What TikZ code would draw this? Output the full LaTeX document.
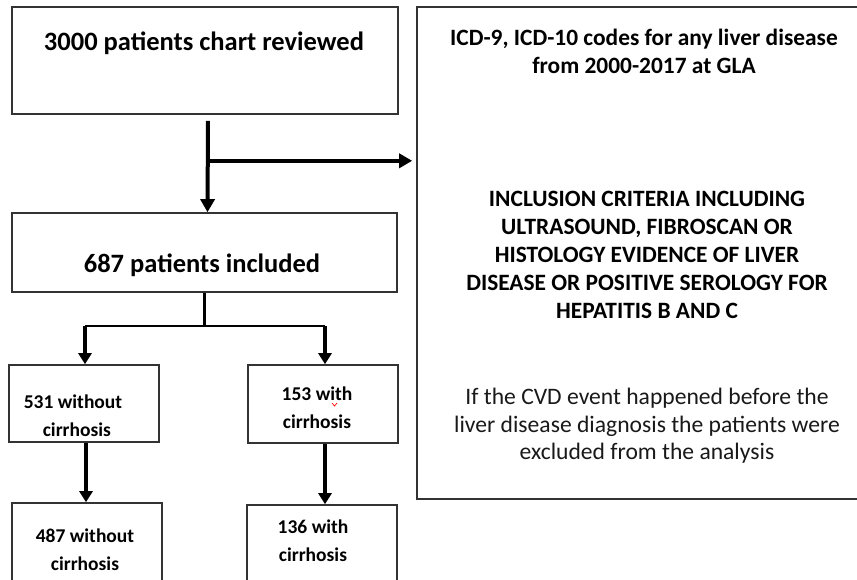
\documentclass[tikz,border=0pt]{standalone}
\usepackage{fontspec}
\setmainfont{Carlito}
\usetikzlibrary{arrows.meta,calc}
\begin{document}
\begin{tikzpicture}[x=1pt,y=-1pt,
  box/.style={draw=black!80,line width=1.6pt,inner sep=0pt},
  arrbig/.style={line width=4pt,-{Triangle[length=13pt,width=14pt]}},
  arrsm/.style={line width=3.2pt,-{Triangle[length=11pt,width=13pt]}},
  ln/.style={line width=2.2pt},
  tbig/.style={font=\bfseries\fontsize{26.5}{32}\selectfont,inner sep=0pt},
  tright/.style={font=\bfseries\fontsize{23.4}{28}\selectfont,align=center,inner sep=0pt},
  treg/.style={font=\fontsize{23.6}{27.5}\selectfont,text=black!90,align=center,inner sep=0pt},
  tsm/.style={font=\bfseries\fontsize{19.5}{28}\selectfont,align=center,inner sep=0pt}]
\useasboundingbox (0,0) rectangle (857,579);
\fill[white] (0,0) rectangle (857,579);
% boxes
\node[box,minimum width=386pt,minimum height=107pt] (b1) at (205,60.5) {};
\node[box,minimum width=385pt,minimum height=79pt] (b2) at (204.5,252.5) {};
\node[box,minimum width=453pt,minimum height=492pt] (r) at (643.5,253) {};
\node[box,minimum width=150pt,minimum height=77pt] (b3) at (84,403.5) {};
\node[box,minimum width=150pt,minimum height=78pt] (b4) at (323,404) {};
\node[box,minimum width=150pt,minimum height=97pt] (b5) at (87,551.5) {};
\node[box,minimum width=150pt,minimum height=95pt] (b6) at (322,552.5) {};
% texts
\node[tbig] (t1) at (204,43) {3000 patients chart reviewed};
\node[tbig] (t2) at (202,265) {687 patients included};
\node[tright] (r1) at (644,51) {ICD-9, ICD-10 codes for any liver disease\\from 2000-2017 at GLA};
\node[tright] (r2) at (647,255) {INCLUSION CRITERIA INCLUDING\\ULTRASOUND, FIBROSCAN OR\\HISTOLOGY EVIDENCE OF LIVER\\DISEASE OR POSITIVE SEROLOGY FOR\\HEPATITIS B AND C};
\node[treg] (r3) at (647,426) {If the CVD event happened before the\\liver disease diagnosis the patients were\\excluded from the analysis};
\node[tsm] (t3) at (73,416) {531 without\\\hspace*{0.4em}cirrhosis};
\node[tsm] (t4) at (317,408) {153 with\\cirrhosis};
\node[tsm] (t5) at (85,550) {487 without\\cirrhosis};
\node[tsm] (t6) at (313,541) {136 with\\cirrhosis};
% spell-check mark
\draw[red,line width=0.7pt] (332,403) -- (334.5,406) -- (337,403);
% connectors
\coordinate (j1) at ($(b1.south)+(3,6)$);
\coordinate (m1) at ($(j1)+(0,40)$);
\coordinate (e1) at ($(b2.north)+(3,0)$);
\coordinate (e2) at ($(r.west |- m1)+(-4,0)$);
\draw[arrbig] (j1) -- (e1);
\draw[arrbig] (m1) -- (e2);
\coordinate (m2) at ($(b2.south)+(0,33)$);
\coordinate (n3) at ($(b3.north)+(1,0)$);
\coordinate (n4) at ($(b4.north)+(2,0)$);
\coordinate (h3) at (n3 |- m2);
\coordinate (h4) at (n4 |- m2);
\draw[ln] (b2.south) -- (m2);
\draw[ln,line join=round] (h3) -- (h4);
\draw[arrsm] (h3) -- (n3);
\draw[arrsm] (h4) -- (n4);
\coordinate (s3) at ($(b3.south)+(2,0)$);
\coordinate (s4) at ($(b4.south)+(2,0)$);
\coordinate (n5) at (s3 |- b5.north);
\coordinate (n6) at (s4 |- b6.north);
\draw[arrsm] (s3) -- (n5);
\draw[arrsm] (s4) -- (n6);
\end{tikzpicture}
\end{document}
